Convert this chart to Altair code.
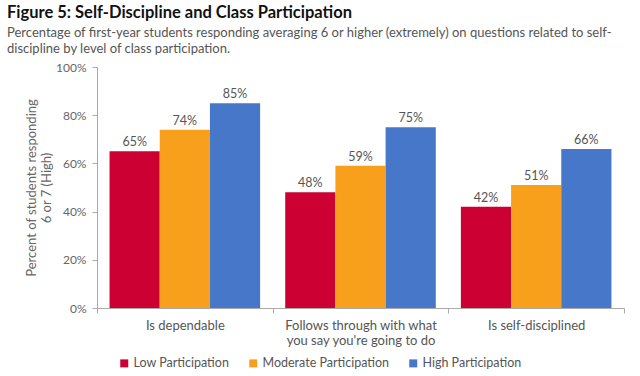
import altair as alt
import pandas as pd

categories = ["Is dependable", "Follows through with what|you say you're going to do", "Is self-disciplined"]
series = ["Low Participation", "Moderate Participation", "High Participation"]
low = [65, 48, 42]
moderate = [74, 59, 51]
high = [85, 75, 66]
colors = ["#cc0033", "#f8a01c", "#4677c8"]
y_ticks = [0, 0.2, 0.4, 0.6, 0.8, 1.0]

rows = []
for i, c in enumerate(categories):
    for s, vals in zip(series, [low, moderate, high]):
        rows.append({"category": c, "series": s, "value": vals[i] / 100, "label": f"{vals[i]}%"})
df = pd.DataFrame(rows)

FONT = "Lato"

base = alt.Chart(df).encode(
    x=alt.X(
        "category:N",
        sort=categories,
        scale=alt.Scale(paddingInner=0, paddingOuter=0),
        axis=alt.Axis(
            title=None,
            labelAngle=0,
            labelExpr="split(datum.label, '|')",
            tickBand="extent",
            labelFontSize=13,
            labelColor="#555555",
            labelFont=FONT,
            labelLineHeight=15,
            labelPadding=6,
            domainColor="#aaaaaa",
            tickColor="#aaaaaa",
            tickSize=5,
        ),
    ),
    xOffset=alt.XOffset("series:N", sort=series, scale=alt.Scale(paddingInner=0, paddingOuter=0.25)),
)

bars = base.mark_bar().encode(
    y=alt.Y(
        "value:Q",
        scale=alt.Scale(domain=[0, 1]),
        axis=alt.Axis(
            format=".0%",
            values=y_ticks,
            grid=False,
            title=["Percent of students responding", "6 or 7 (High)"],
            titleFontSize=13,
            titleFontWeight="normal",
            titleColor="#666666",
            titleFont=FONT,
            titlePadding=2,
            labelFontSize=12,
            labelColor="#666666",
            labelFont=FONT,
            labelPadding=6,
            domainColor="#aaaaaa",
            tickColor="#aaaaaa",
            tickSize=5,
        ),
    ),
    color=alt.Color(
        "series:N",
        sort=series,
        scale=alt.Scale(domain=series, range=colors),
        legend=alt.Legend(
            title=None,
            orient="none",
            direction="horizontal",
            legendX=21,
            legendY=290,
            symbolType="square",
            symbolSize=64,
            symbolStrokeWidth=0,
            labelFontSize=12.5,
            labelColor="#555555",
            labelFont=FONT,
            columnPadding=17,
            labelOffset=3,
        ),
    ),
)

text = base.mark_text(dy=-9, fontSize=12.5, color="#555555", font=FONT).encode(
    y=alt.Y("value:Q"),
    text="label:N",
)

chart = (
    alt.layer(bars, text)
    .properties(
        width=527,
        height=241,
        autosize=alt.AutoSizeParams(type="none"),
        padding={"left": 97, "top": 67, "right": 16, "bottom": 68},
        title=alt.TitleParams(
            text="Figure 5: Self-Discipline and Class Participation",
            subtitle=[
                "Percentage of first-year students responding averaging 6 or higher (extremely) on questions related to self-",
                "discipline by level of class participation.",
            ],
            anchor="start",
            frame="group",
            dx=-90,
            offset=5,
            font=FONT,
            fontSize=16.5,
            fontWeight="bold",
            color="#111111",
            subtitleFont=FONT,
            subtitleFontSize=13,
            subtitleColor="#555555",
            subtitleLineHeight=16,
            subtitlePadding=6,
        ),
    )
    .configure_view(stroke=None)
)

chart.save("out.html", embed_options={"renderer": "svg", "actions": False})
